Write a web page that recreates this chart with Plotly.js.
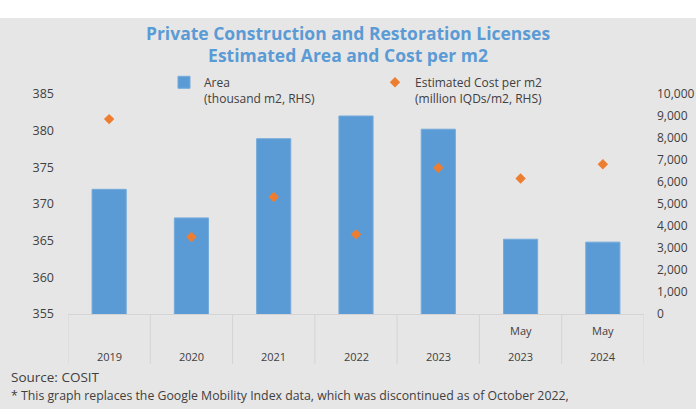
<!DOCTYPE html>
<html>
<head>
<meta charset="utf-8">
<script src="https://cdn.plot.ly/plotly-3.0.1.min.js"></script>
<style>html,body{margin:0;padding:0;background:#e7e6e6;}#chart{width:696px;height:409px;}</style>
</head>
<body>
<div id="chart"></div>
<script>
// ---- data ----
const categories = ["2019", "2020", "2021", "2022", "2023", "May 2023", "May 2024"];
const monthLabels = ["", "", "", "", "", "May", "May"];
const yearLabels = ["2019", "2020", "2021", "2022", "2023", "2023", "2024"];
const areaValues = [372.0, 368.1, 378.9, 382.0, 380.2, 365.2, 364.8];
const costValues = [8860, 3500, 5320, 3620, 6650, 6160, 6810];
const leftTicks = [355, 360, 365, 370, 375, 380, 385];
const rightTicks = [0, 1000, 2000, 3000, 4000, 5000, 6000, 7000, 8000, 9000, 10000];

const FONT = "Open Sans, Noto Sans, sans-serif";
const TXT = "#404040";
const idx = categories.map((c, i) => i);

const traces = [
  {
    type: "bar",
    name: "Area<br>(thousand m2, RHS)",
    x: idx,
    y: areaValues,
    yaxis: "y",
    marker: {color: "#5b9bd5", line: {color: "#74aadc", width: 1}},
    legend: "legend",
    hoverinfo: "y"
  },
  {
    type: "scatter",
    mode: "markers",
    name: "Estimated Cost per m2<br>(million IQDs/m2, RHS)",
    x: idx,
    y: costValues,
    yaxis: "y2",
    marker: {symbol: "diamond", color: "#ed7d31", size: 8},
    legend: "legend2",
    hoverinfo: "y"
  }
];

const plotH = 220;
const sepDepth = 50 / plotH;
const shapes = [
  {type: "rect", xref: "paper", yref: "paper", x0: -0.2, x1: 1.2, y0: 1 + (94 - 18) / plotH, y1: 1 + 94 / plotH + 0.1,
   fillcolor: "#ffffff", line: {width: 0}, layer: "below"}
];
for (let i = 0; i <= categories.length; i++) {
  shapes.push({type: "line", xref: "x", yref: "paper", x0: i - 0.5, x1: i - 0.5, y0: 0, y1: -sepDepth,
    line: {color: "#d4d4d4", width: 1}});
}

const annotations = [];
idx.forEach(i => {
  if (monthLabels[i]) annotations.push({xref: "x", yref: "paper", x: i, y: -(330.7 - 314) / plotH, yanchor: "middle",
    text: monthLabels[i], showarrow: false, font: {family: FONT, size: 11, color: TXT}});
  annotations.push({xref: "x", yref: "paper", x: i, y: -(356.7 - 314) / plotH, yanchor: "middle",
    text: yearLabels[i], showarrow: false, font: {family: FONT, size: 11, color: TXT}});
});
annotations.push({xref: "paper", yref: "paper", x: (9 - 68) / 576, xanchor: "left", y: -(377.3 - 314) / plotH, yanchor: "middle",
  text: "Source: COSIT", showarrow: false, font: {family: FONT, size: 13.5, color: TXT}});
annotations.push({xref: "paper", yref: "paper", x: (9 - 68) / 576, xanchor: "left", y: -(395 - 314) / plotH, yanchor: "middle",
  text: "* This graph replaces the Google Mobility Index data, which was discontinued as of October 2022,", showarrow: false,
  font: {family: FONT, size: 12.3, color: TXT}});

const layout = {
  width: 696, height: 409,
  margin: {l: 68, r: 52, t: 94, b: 95, pad: 0},
  paper_bgcolor: "#e7e6e6",
  plot_bgcolor: "#e7e6e6",
  showlegend: true,
  title: {
    text: "<b>Private Construction and Restoration Licenses<br>Estimated Area and Cost per m2</b>",
    font: {family: FONT, size: 17.5, color: "#5b9bd5"},
    x: 0.5, xref: "container", xanchor: "center",
    y: 1 - 39.5 / 409, yref: "container", yanchor: "middle"
  },
  bargap: 0.585,
  xaxis: {
    range: [-0.5, categories.length - 0.5],
    tickvals: idx, ticktext: idx.map(() => ""), showticklabels: false,
    showgrid: false, zeroline: false, showline: true, linecolor: "#d4d4d4", linewidth: 1, ticks: ""
  },
  yaxis: {
    range: [355, 385], tickvals: leftTicks, ticktext: leftTicks.map(String),
    showgrid: false, zeroline: false, showline: false, ticks: "", ticklabelstandoff: 13,
    tickfont: {family: FONT, size: 12.5, color: TXT}
  },
  yaxis2: {
    range: [0, 10000], tickvals: rightTicks, ticktext: rightTicks.map(v => v.toLocaleString("en-US")),
    overlaying: "y", side: "right",
    showgrid: false, zeroline: false, showline: false, ticks: "", ticklabelstandoff: 12,
    tickfont: {family: FONT, size: 12, color: TXT}
  },
  legend: {
    orientation: "h", x: (164 - 68) / 576, xanchor: "left", y: 1 + (94 - 68) / plotH, yanchor: "top",
    bgcolor: "rgba(0,0,0,0)", valign: "top", font: {family: FONT, size: 12, color: TXT}
  },
  legend2: {
    orientation: "h", x: (375 - 68) / 576, xanchor: "left", y: 1 + (94 - 68) / plotH, yanchor: "top",
    bgcolor: "rgba(0,0,0,0)", valign: "top", font: {family: FONT, size: 12, color: TXT}
  },
  shapes: shapes,
  annotations: annotations
};

Plotly.newPlot("chart", traces, layout, {displayModeBar: false, staticPlot: true});
</script>
</body>
</html>
